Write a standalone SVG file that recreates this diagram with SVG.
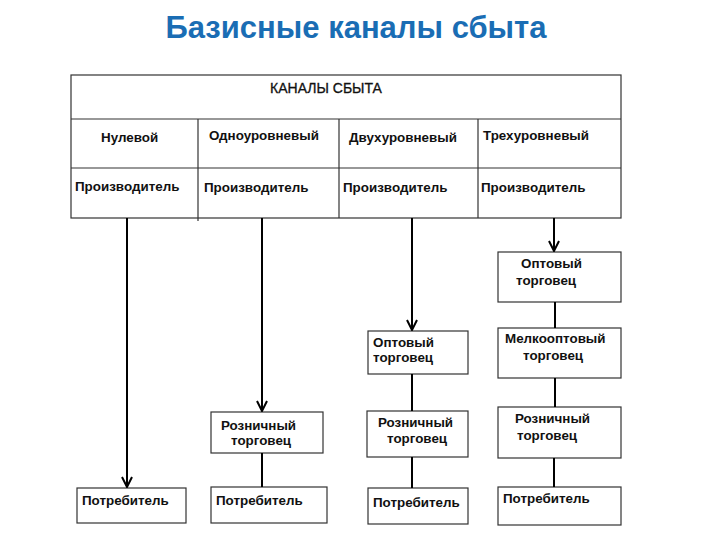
<svg xmlns="http://www.w3.org/2000/svg" width="720" height="540" viewBox="0 0 720 540">
<defs>
<marker id="arr" viewBox="0 0 12 12" refX="11" refY="6" markerWidth="12" markerHeight="12" markerUnits="userSpaceOnUse" orient="auto">
<path d="M1,1 L11,6 L1,11" fill="none" stroke="#000" stroke-width="2"/>
</marker>
<style>
.t{font-family:"Liberation Sans",Arial,sans-serif;font-size:13.4px;font-weight:bold;fill:#111}
.h{font-family:"Liberation Sans",Arial,sans-serif;font-size:14px;fill:#111;stroke:#111;stroke-width:0.3}
.title{font-family:"Liberation Sans",Arial,sans-serif;font-size:31px;font-weight:bold;fill:#1a6db4}
.b{fill:#fff;stroke:#333;stroke-width:1.2}
.g{fill:none;stroke:#333;stroke-width:1.2}
.c{fill:none;stroke:#000;stroke-width:2}
</style>
</defs>
<rect width="720" height="540" fill="#fff"/>
<text class="title" x="356" y="38" text-anchor="middle">Базисные каналы сбыта</text>

<g id="table">
<rect class="b" x="71" y="75" width="550" height="143"/>
<line class="g" x1="71" y1="119" x2="621" y2="119"/>
<line class="g" x1="71" y1="168" x2="621" y2="168"/>
<line class="g" x1="198" y1="119" x2="198" y2="221"/>
<line class="g" x1="339" y1="119" x2="339" y2="218"/>
<line class="g" x1="478" y1="119" x2="478" y2="218"/>
<text class="h" x="326" y="93" text-anchor="middle">КАНАЛЫ СБЫТА</text>
<text class="t" x="101" y="142">Нулевой</text>
<text class="t" x="209" y="140">Одноуровневый</text>
<text class="t" x="349" y="142">Двухуровневый</text>
<text class="t" x="483" y="140">Трехуровневый</text>
<text class="t" x="75" y="191">Производитель</text>
<text class="t" x="204" y="192">Производитель</text>
<text class="t" x="343" y="192">Производитель</text>
<text class="t" x="481" y="192">Производитель</text>
</g>

<g id="c1-consumer"><rect class="b" x="77" y="488" width="109" height="35"/><text class="t" x="82" y="505">Потребитель</text></g>

<g id="c2-retail"><rect class="b" x="211" y="412" width="112" height="41"/><text class="t" x="221" y="430">Розничный</text><text class="t" x="231" y="445">торговец</text></g>
<g id="c2-consumer"><rect class="b" x="211" y="487" width="116" height="36"/><text class="t" x="216" y="505">Потребитель</text></g>

<g id="c3-wholesale"><rect class="b" x="368" y="331" width="100" height="43"/><text class="t" x="373" y="347">Оптовый</text><text class="t" x="373" y="362">торговец</text></g>
<g id="c3-retail"><rect class="b" x="367" y="411" width="101" height="46"/><text class="t" x="378" y="427">Розничный</text><text class="t" x="387" y="443">торговец</text></g>
<g id="c3-consumer"><rect class="b" x="368" y="488" width="100" height="36"/><text class="t" x="373" y="507">Потребитель</text></g>

<g id="c4-wholesale"><rect class="b" x="498" y="252" width="123" height="50"/><text class="t" x="521" y="268">Оптовый</text><text class="t" x="516" y="285">торговец</text></g>
<g id="c4-small"><rect class="b" x="498" y="328" width="123" height="50"/><text class="t" x="505" y="343">Мелкооптовый</text><text class="t" x="523" y="360">торговец</text></g>
<g id="c4-retail"><rect class="b" x="498" y="407" width="123" height="51"/><text class="t" x="515" y="423">Розничный</text><text class="t" x="517" y="440">торговец</text></g>
<g id="c4-consumer"><rect class="b" x="498" y="487" width="123" height="38"/><text class="t" x="503" y="503">Потребитель</text></g>

<g id="connectors">
<line class="c" x1="127" y1="218" x2="127" y2="487" marker-end="url(#arr)"/>
<line class="c" x1="262" y1="218" x2="262" y2="411" marker-end="url(#arr)"/>
<line class="c" x1="262" y1="453" x2="262" y2="487"/>
<line class="c" x1="412" y1="218" x2="412" y2="330" marker-end="url(#arr)"/>
<line class="c" x1="412" y1="374" x2="412" y2="411"/>
<line class="c" x1="412" y1="457" x2="412" y2="488"/>
<line class="c" x1="554" y1="218" x2="554" y2="251" marker-end="url(#arr)"/>
<line class="c" x1="555" y1="302" x2="555" y2="328"/>
<line class="c" x1="555" y1="378" x2="555" y2="407"/>
<line class="c" x1="554" y1="458" x2="554" y2="487"/>
</g>
</svg>
